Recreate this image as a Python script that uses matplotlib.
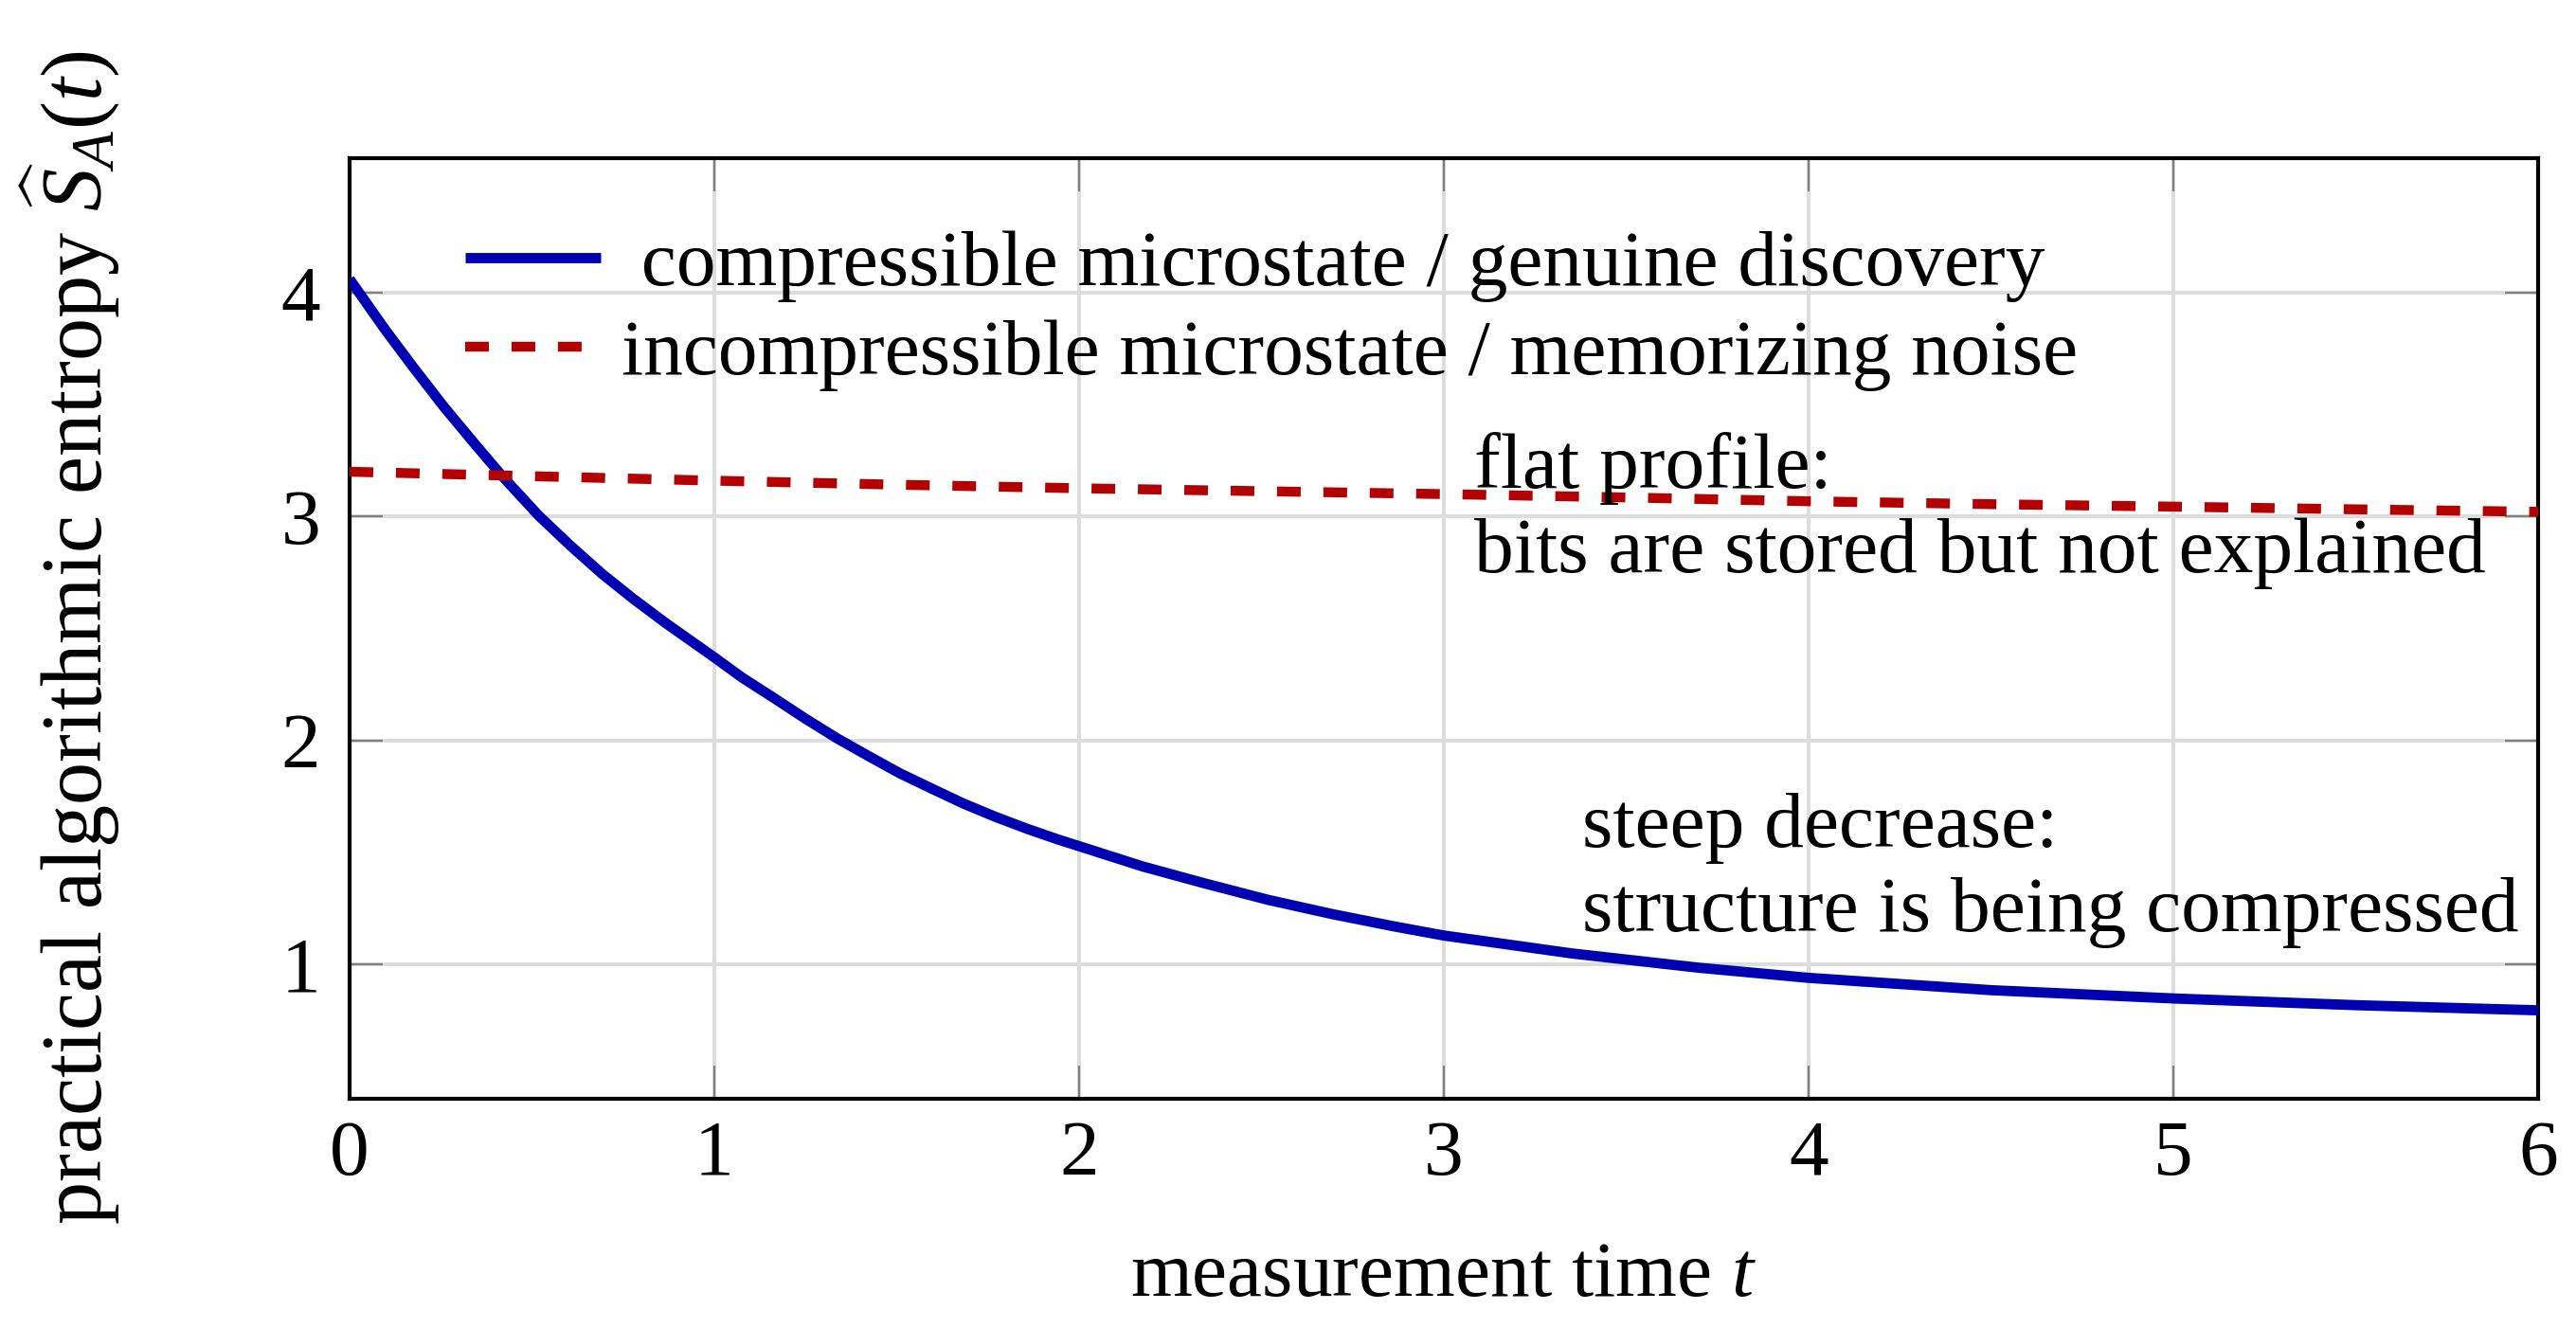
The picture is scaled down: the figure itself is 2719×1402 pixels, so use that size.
import numpy as np
import matplotlib
matplotlib.use("Agg")
import matplotlib.pyplot as plt

# values
t_blue = [0.0, 0.095, 0.173, 0.26, 0.346, 0.416, 0.519, 0.606, 0.693, 0.779,
          0.866, 1.0, 1.076, 1.163, 1.249, 1.336, 1.423, 1.509, 1.596, 1.682,
          1.769, 1.855, 1.942, 2.0, 2.173, 2.346, 2.519, 2.693, 2.866, 3.0,
          3.351, 3.7, 4.0, 4.5, 5.0, 5.5, 6.0]
s_blue = [4.06, 3.84, 3.67, 3.487, 3.319, 3.185, 3.003, 2.869, 2.743, 2.631,
          2.525, 2.371, 2.281, 2.19, 2.098, 2.01, 1.93, 1.853, 1.785, 1.719,
          1.66, 1.607, 1.558, 1.528, 1.438, 1.361, 1.288, 1.225, 1.169, 1.129,
          1.049, 0.985, 0.94, 0.885, 0.848, 0.818, 0.795]

t_red = [0.0, 0.5, 1.0, 1.5, 2.0, 2.5, 3.0, 3.5, 4.0, 4.5, 5.0, 5.5, 6.0]
s_red = [3.20, 3.18, 3.16, 3.142, 3.126, 3.113, 3.10, 3.085, 3.068, 3.055,
         3.044, 3.032, 3.021]

label_blue = " compressible microstate / genuine discovery"
label_red = "incompressible microstate / memorizing noise"

notes = [
    ("flat profile:", 3.083, 3.127),
    ("bits are stored but not explained", 3.083, 2.75),
    ("steep decrease:", 3.38, 1.523),
    ("structure is being compressed", 3.38, 1.148),
]

xticks = [0, 1, 2, 3, 4, 5, 6]
yticks = [1, 2, 3, 4]

FS = 60
plt.rcParams['font.family'] = ['Liberation Serif', 'DejaVu Serif']
plt.rcParams['mathtext.fontset'] = 'custom'
plt.rcParams['mathtext.rm'] = 'Liberation Serif'
plt.rcParams['mathtext.it'] = 'Liberation Serif:italic'
plt.rcParams['font.size'] = FS

fig = plt.figure(figsize=(27.19, 14.02), dpi=100)
ax = fig.add_axes([0.1357, 0.1726, 0.8496, 0.7083])

ax.plot(t_blue, s_blue, color='#0000b3', lw=7.8, solid_capstyle='butt',
        solid_joinstyle='round', label=label_blue, zorder=3)
ax.plot(t_red, s_red, color='#b30000', lw=7.5, dashes=(2.4, 2.3),
        dash_capstyle='butt', label=label_red, zorder=3)

ax.set_xlim(0, 6)
ax.set_ylim(0.4, 4.6)
ax.set_xticks(xticks)
ax.set_yticks(yticks)
ax.grid(True, color='#dddddd', lw=2.9)
ax.set_axisbelow(True)
ax.tick_params(direction='in', length=25, width=1.6, color='#808080',
               top=True, right=True, labelsize=FS)
ax.tick_params(axis='x', pad=16)
ax.tick_params(axis='y', pad=22)
for sp in ax.spines.values():
    sp.set_linewidth(3)

ax.set_xlabel("measurement time $t$", va='baseline')
ax.xaxis.set_label_coords(0.5, -0.209)
ax.set_ylabel(r"practical algorithmic entropy $\widehat{S}_A(t)$",
              va='baseline', fontsize=65)
ax.yaxis.set_label_coords(-0.113, 0.49)

for txt, x, y in notes:
    ax.text(x, y, txt, ha='left', va='baseline', fontsize=FS)

fs_px = FS * 100 / 72
ax.legend(loc='upper left', bbox_to_anchor=(0.053, 0.924), frameon=False,
          borderpad=0, borderaxespad=0, handlelength=143 / fs_px,
          handletextpad=22 / fs_px, labelspacing=0.22, fontsize=FS)

fig.savefig("out.png", dpi=100)
